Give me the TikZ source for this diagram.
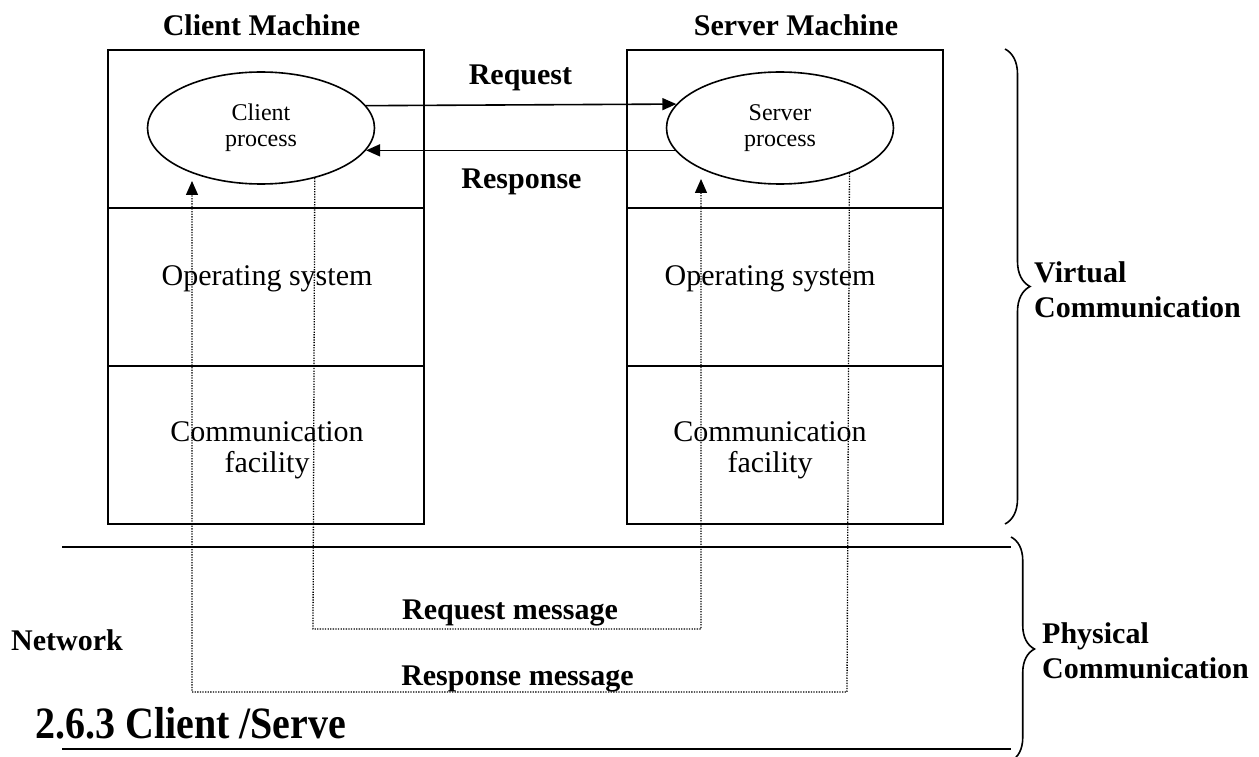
\documentclass[tikz,border=0pt]{standalone}
\usepackage{fontspec}
\setmainfont{Liberation Serif}
\usetikzlibrary{shapes.geometric,arrows.meta,decorations.pathreplacing}

\tikzset{
  lbl/.style={font=\fontsize{30}{35}\selectfont\bfseries, inner sep=0pt, align=left},
  body/.style={font=\fontsize{30}{31}\selectfont, inner sep=0pt, align=center},
  proc/.style={ellipse, draw, line width=1.6pt, minimum width=227pt, minimum height=112pt,
               inner sep=0pt, align=center, font=\fontsize{24}{26}\selectfont},
  comp/.style={draw, line width=2pt, minimum width=316pt, minimum height=158pt, inner sep=0pt},
  call/.style={line width=1.6pt, -{Triangle[length=14pt,width=12pt]}},
  msg/.style={line width=1.3pt, dash pattern=on 1.3pt off 1.3pt},
  msgarrow/.style={msg, -{Triangle[length=14pt,width=12pt]}},
  rule/.style={line width=2pt},
  bracket/.style={line width=1.6pt, decorate, decoration={brace, amplitude=#1}},
}

\begin{document}
\begin{tikzpicture}[x=1pt, y=-1pt]
\clip (0,0) rectangle (1259,757);

% client machine: three stacked layers
\node[comp] (c1) at (266,129) {};
\node[comp] (c2) at (266,287) {};
\node[comp] (c3) at (266,445) {};
% server machine
\node[comp] (s1) at (785,129) {};
\node[comp] (s2) at (785,287) {};
\node[comp] (s3) at (785,445) {};

\node[lbl, anchor=base] (ctitle) at (261.5,36) {Client Machine};
\node[lbl, anchor=base] (stitle) at (796,36) {Server Machine};

% processes
\node[proc] (cp) at (261,128) {Client\\process};
\node[proc] (sp) at (780,128) {Server\\process};

% layer captions
\node[body, anchor=base] (cos) at (267,285) {Operating system};
\node[body, anchor=base] (sos) at (770,285) {Operating system};
\node[body] (ccf) at (267,450) {Communication\\facility};
\node[body] (scf) at (770,450) {Communication\\facility};

% virtual request / response
\draw[call] (cp.12.6) -- (sp.167.4);
\draw[call] (sp.192) -- (cp.-12);
\node[lbl, anchor=base] (req) at (520.5,85) {Request};
\node[lbl, anchor=base] (resp) at (521.5,189) {Response};

% network boundary
\coordinate (nA) at (62,547);
\coordinate (nB) at (1011,547);
\coordinate (nC) at (62,749);
\coordinate (nD) at (1011,749);
\draw[rule] (nA) -- (nB);
\draw[rule] (nC) -- (nD);

% physical message paths
\coordinate (rqL) at (313,629);
\coordinate (rqR) at (701,629);
\coordinate (rqEnd) at (701,179);
\coordinate (rsR) at (847,692);
\coordinate (rsL) at (192,692);
\coordinate (rsEnd) at (192,181);
\draw[msgarrow] (cp.-43.7) -- (rqL) -- (rqR) -- (rqEnd);
\draw[msgarrow] (sp.-33.9) -- (rsR) -- (rsL) -- (rsEnd);

\node[lbl, anchor=base] (rqmsg) at (510,619) {Request message};
\node[lbl, anchor=base] (rsmsg) at (517.5,685) {Response message};
\node[lbl, anchor=base west] (net) at (11,650) {Network};

\node[anchor=base west, inner sep=0pt, yscale=1.12, font=\fontsize{40}{44}\selectfont\bfseries] (head) at (35,738) {2.6.3 Client /Serve};

% communication levels
\coordinate (vT) at (1005,49);
\coordinate (vB) at (1005,524);
\coordinate (pT) at (1011,537);
\coordinate (pB) at (1011,761);
\draw[bracket=25pt] (vT) -- (vB);
\draw[bracket=23.5pt] (pT) -- (pB);
\node[lbl, anchor=west] (virt) at (1034,290) {Virtual\\Communication};
\node[lbl, anchor=west] (phys) at (1042,651) {Physical\\Communication};
\end{tikzpicture}
\end{document}
